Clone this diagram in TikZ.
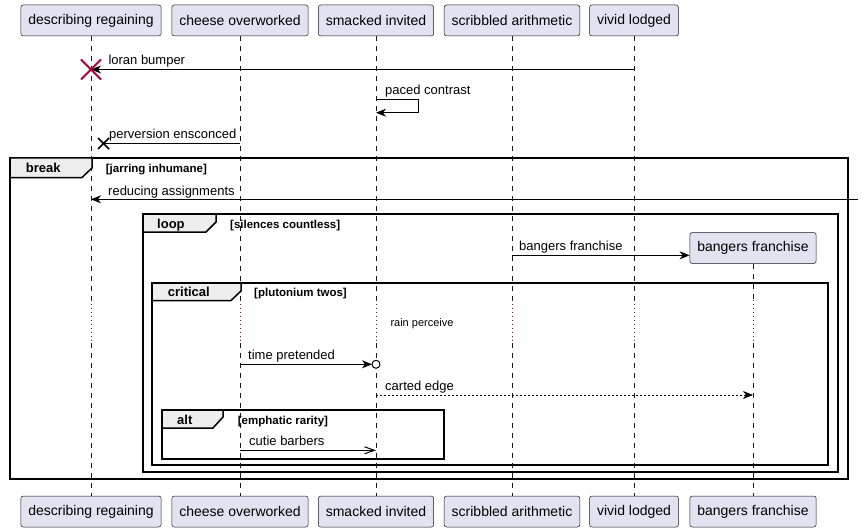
\documentclass[tikz,border=0pt]{standalone}
\usepackage{fontspec}
\setmainfont{Liberation Sans}
\usetikzlibrary{arrows.meta,calc}
\definecolor{partfill}{HTML}{E2E2F0}
\definecolor{partline}{HTML}{181818}
\definecolor{killred}{HTML}{A80036}
\definecolor{tabfill}{HTML}{EEEEEE}

\begin{document}
\begin{tikzpicture}[x=1pt,y=-1pt,
    part/.style={draw=partline,fill=partfill,line width=0.5pt,rounded corners=2.5pt,
      minimum height=31pt,inner xsep=7.5pt,inner ysep=0pt,font=\fontsize{14}{16}\selectfont},
    life/.style={draw=partline,line width=0.5pt,dash pattern=on 5pt off 5pt},
    delay/.style={draw=killred,line width=1pt,dash pattern=on 1pt off 3pt},
    msg/.style={line width=1pt,-{Stealth[length=10pt,width=8pt,inset=3pt]}},
    lbl/.style={anchor=base west,inner sep=0pt,font=\fontsize{13}{15}\selectfont},
    frame/.style={line width=1.5pt},
    tab/.style={line width=1.5pt,fill=tabfill},
    grp/.style={anchor=base west,inner sep=0pt,font=\fontsize{13}{15}\selectfont\bfseries},
    cond/.style={anchor=base west,inner sep=0pt,font=\fontsize{11.5}{13}\selectfont\bfseries}]

    \useasboundingbox (0,0) rectangle (862,532);

    % participants, top row
    \node[part] (pA) at (91,20.5) {describing regaining};
    \node[part] (pB) at (240,20.5) {cheese overworked};
    \node[part] (pC) at (376,20.5) {smacked invited};
    \node[part] (pD) at (512,20.5) {scribbled arithmetic};
    \node[part] (pE) at (634,20.5) {vivid lodged};
    \node[part] (pF) at (753,248) {bangers franchise};

    % participants, bottom row
    \node[part] (bA) at (91,511.5) {describing regaining};
    \node[part] (bB) at (240,511.5) {cheese overworked};
    \node[part] (bC) at (376,511.5) {smacked invited};
    \node[part] (bD) at (512,511.5) {scribbled arithmetic};
    \node[part] (bE) at (634,511.5) {vivid lodged};
    \node[part] (bF) at (753,511.5) {bangers franchise};

    % rows
    \coordinate (d1) at (0,300);
    \coordinate (d2) at (0,343);
    \coordinate (r1) at (0,69.5);
    \coordinate (r2) at (0,100);
    \coordinate (r3) at (0,112.7);
    \coordinate (r4) at (0,143.5);
    \coordinate (r5) at (0,199.3);
    \coordinate (r6) at (0,255.3);
    \coordinate (r7) at (0,364.3);
    \coordinate (r8) at (0,395);
    \coordinate (r9) at (0,450.3);

    % lifelines
    \foreach \p/\b in {pA/bA,pB/bB,pC/bC,pD/bD,pE/bE,pF/bF}{
      \draw[life] (\p.south) -- (\p |- d1);
      \draw[delay] (\p |- d1) -- (\p |- d2);
      \draw[life] (\p |- d2) -- (\b.north);
    }

    % groups
    \draw[frame] (10,158) rectangle (848,479);
    \draw[tab] (10,158) -- (92,158) -- (92,168) -- (82,177.5) -- (10,177.5) -- cycle;
    \node[grp] (gBreak) at (25.7,172) {break};
    \node[cond] (cBreak) at (105.7,172) {[jarring inhumane]};

    \draw[frame] (143,214) rectangle (838,472);
    \draw[tab] (143,214) -- (216,214) -- (216,222) -- (206,232) -- (143,232) -- cycle;
    \node[grp] (gLoop) at (157,228.5) {loop};
    \node[cond] (cLoop) at (230,228) {[silences countless]};

    \draw[frame] (152,283) rectangle (828,465);
    \draw[tab] (152,283) -- (241,283) -- (241,291) -- (231,300.5) -- (152,300.5) -- cycle;
    \node[grp] (gCrit) at (167.7,296) {critical};
    \node[cond] (cCrit) at (254,296) {[plutonium twos]};

    \draw[frame] (162,410) rectangle (444,459);
    \draw[tab] (162,410) -- (223,410) -- (223,417) -- (213,428) -- (162,428) -- cycle;
    \node[grp] (gAlt) at (177,424) {alt};
    \node[cond] (cAlt) at (237.7,424) {[emphatic rarity]};

    % messages
    \draw[msg] (pE |- r1) -- (pA |- r1);
    \node[lbl] (tLoran) at (108.3,65) {loran bumper};
    \coordinate (xA) at (pA |- r1);
    \draw[killred,line width=2pt] ($(xA)+(-10,-10)$) -- ($(xA)+(10,10)$)
      ($(xA)+(-10,10)$) -- ($(xA)+(10,-10)$);

    \draw[msg] (pC |- r2) -- ++(42,0) |- (pC |- r3);
    \node[lbl] (tPaced) at (385,95) {paced contrast};

    \coordinate (xB) at (103.5,143.5);
    \draw[line width=1pt] (pB |- r4) -- (xB);
    \draw[line width=1.5pt] ($(xB)+(-5.5,-5.5)$) -- ($(xB)+(5.5,5.5)$)
      ($(xB)+(-5.5,5.5)$) -- ($(xB)+(5.5,-5.5)$);
    \node[lbl] (tPerv) at (109,139) {perversion ensconced};

    \coordinate (edge) at (858,199.3);
    \draw[msg] (edge) -- (pA |- r5);
    \node[lbl] (tReduce) at (108,195) {reducing assignments};

    \draw[msg] (pD |- r6) -- (pF.west |- r6);
    \node[lbl] (tBangers) at (519,250.5) {bangers franchise};

    \node[anchor=base,inner sep=0pt,font=\fontsize{11}{13}\selectfont] (tRain) at (422,326) {rain perceive};

    \coordinate (cT) at (pC |- r7);
    \draw[msg] (pB |- r7) -- ($(cT)+(-4,0)$);
    \draw[line width=1pt,fill=white] (cT) circle (4pt);
    \node[lbl] (tTime) at (248,359.8) {time pretended};

    \draw[msg,dash pattern=on 2pt off 2pt] (pC |- r8) -- (pF |- r8);
    \node[lbl] (tCarted) at (385,390.5) {carted edge};

    \draw[line width=1pt,-{Straight Barb[length=10pt,width=7pt]}] (pB |- r9) -- (pC |- r9);
    \node[lbl] (tCutie) at (249,445.5) {cutie barbers};
  \end{tikzpicture}
\end{document}
